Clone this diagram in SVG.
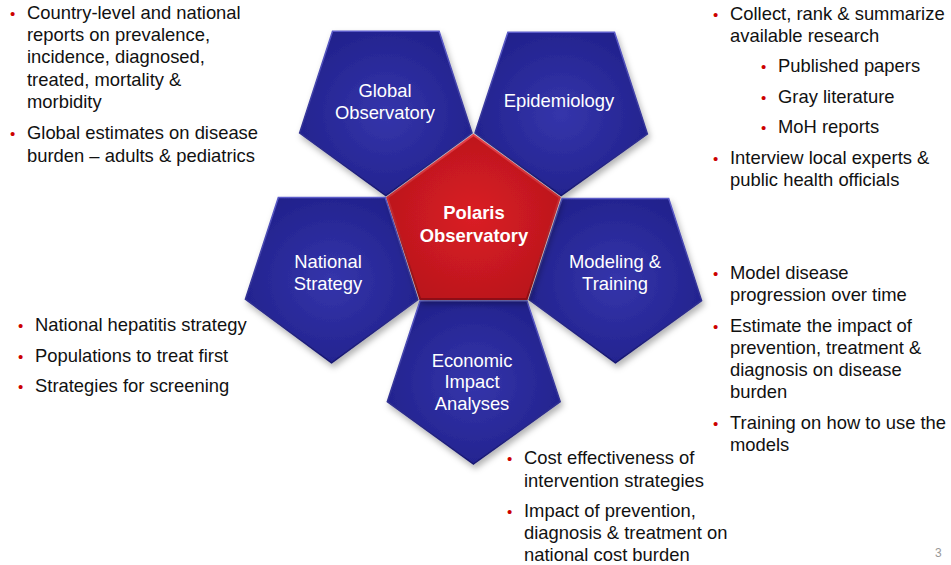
<svg xmlns="http://www.w3.org/2000/svg" width="951" height="565" viewBox="0 0 951 565">
<style>
text{font-family:"Liberation Sans",Arial,sans-serif;}
.t{font-size:18.4px;fill:#111;}
.b{font-size:15px;fill:#cc0000;}
.lbl{font-size:18.4px;fill:#fff;text-anchor:middle;}
.lblb{font-size:18.4px;fill:#fff;text-anchor:middle;font-weight:bold;}
.blue{fill:url(#gBlue);stroke:url(#gBlueEdge);stroke-width:1.5;stroke-linejoin:miter;filter:url(#sh);}
.red{fill:url(#gRed);stroke:url(#gRedEdge);stroke-width:2;stroke-linejoin:miter;filter:url(#sh);}
.pg{font-size:12px;fill:#999;}
</style>
<defs>
<radialGradient id="gBlue" cx="0.5" cy="0.5" r="0.6">
<stop offset="0" stop-color="#3535ab"/>
<stop offset="1" stop-color="#20208a"/>
</radialGradient>
<linearGradient id="gBlueEdge" x1="0" y1="0" x2="0" y2="1">
<stop offset="0" stop-color="#5a5ac8"/>
<stop offset="1" stop-color="#161670"/>
</linearGradient>
<radialGradient id="gRed" cx="0.5" cy="0.5" r="0.6">
<stop offset="0" stop-color="#da1d25"/>
<stop offset="1" stop-color="#b8161c"/>
</radialGradient>
<linearGradient id="gRedEdge" x1="0" y1="0" x2="0" y2="1">
<stop offset="0" stop-color="#e8404a"/>
<stop offset="1" stop-color="#8e0f14"/>
</linearGradient>
<filter id="sh" x="-20%" y="-20%" width="140%" height="140%">
<feDropShadow dx="2" dy="4" stdDeviation="3" flood-color="#000" flood-opacity="0.3"/>
</filter>
</defs>

<g id="connectors"></g>

<g id="node-global">
<polygon class="blue" points="385.8,195.6 472.0,133.0 439.1,31.2 332.5,31.2 299.6,133.0"/>
<text class="lbl" x="385" y="96.5">Global</text>
<text class="lbl" x="385" y="118.5">Observatory</text>
</g>
<g id="node-epidemiology">
<polygon class="blue" points="561.2,195.6 475.0,133.0 507.9,32.2 614.5,32.2 647.4,134.0"/>
<text class="lbl" x="559" y="106.5">Epidemiology</text>
</g>
<g id="node-national">
<polygon class="blue" points="331.6,362.8 245.4,299.2 278.3,197.6 385.3,197.6 417.8,299.7"/>
<text class="lbl" x="328" y="268">National</text>
<text class="lbl" x="328" y="290">Strategy</text>
</g>
<g id="node-modeling">
<polygon class="blue" points="615.4,362.8 701.6,300.7 668.7,198.4 562.1,198.4 529.2,299.7"/>
<text class="lbl" x="615" y="268">Modeling &amp;</text>
<text class="lbl" x="615" y="290">Training</text>
</g>
<g id="node-economic">
<polygon class="blue" points="473.5,464.0 560.2,401.7 527.0,301.0 420.0,301.0 387.3,401.7"/>
<text class="lbl" x="472" y="366.5">Economic</text>
<text class="lbl" x="472" y="388">Impact</text>
<text class="lbl" x="472" y="410">Analyses</text>
</g>
<g id="node-polaris">
<polygon class="red" points="473.5,135 559.7,197.6 526.8,298.9 420.2,298.9 387.3,197.6"/>
<text class="lblb" x="474" y="219">Polaris</text>
<text class="lblb" x="474" y="241.5">Observatory</text>
</g>

<g id="notes-global">
<text class="b" x="10" y="19">•</text>
<text class="t" x="27" y="19">Country-level and national</text>
<text class="t" x="27" y="41.2">reports on prevalence,</text>
<text class="t" x="27" y="63.4">incidence, diagnosed,</text>
<text class="t" x="27" y="85.6">treated, mortality &amp;</text>
<text class="t" x="27" y="107.8">morbidity</text>
<text class="b" x="10" y="139.3">•</text>
<text class="t" x="27" y="139.3">Global estimates on disease</text>
<text class="t" x="27" y="161.5">burden – adults &amp; pediatrics</text>
</g>
<g id="notes-epidemiology">
<text class="b" x="713" y="19.5">•</text>
<text class="t" x="730" y="19.5">Collect, rank &amp; summarize</text>
<text class="t" x="730" y="41.7">available research</text>
<text class="b" x="761" y="72.2">•</text>
<text class="t" x="778" y="72.2">Published papers</text>
<text class="b" x="761" y="102.7">•</text>
<text class="t" x="778" y="102.7">Gray literature</text>
<text class="b" x="761" y="133.2">•</text>
<text class="t" x="778" y="133.2">MoH reports</text>
<text class="b" x="713" y="163.7">•</text>
<text class="t" x="730" y="163.7">Interview local experts &amp;</text>
<text class="t" x="730" y="185.9">public health officials</text>
</g>
<g id="notes-modeling">
<text class="b" x="713" y="279">•</text>
<text class="t" x="730" y="279">Model disease</text>
<text class="t" x="730" y="301.2">progression over time</text>
<text class="b" x="713" y="331.7">•</text>
<text class="t" x="730" y="331.7">Estimate the impact of</text>
<text class="t" x="730" y="353.9">prevention, treatment &amp;</text>
<text class="t" x="730" y="376.1">diagnosis on disease</text>
<text class="t" x="730" y="398.3">burden</text>
<text class="b" x="713" y="428.8">•</text>
<text class="t" x="730" y="428.8">Training on how to use the</text>
<text class="t" x="730" y="451">models</text>
</g>
<g id="notes-national">
<text class="b" x="18" y="331">•</text>
<text class="t" x="35" y="331">National hepatitis strategy</text>
<text class="b" x="18" y="361.5">•</text>
<text class="t" x="35" y="361.5">Populations to treat first</text>
<text class="b" x="18" y="392">•</text>
<text class="t" x="35" y="392">Strategies for screening</text>
</g>
<g id="notes-economic">
<text class="b" x="507" y="464.3">•</text>
<text class="t" x="524" y="464.3">Cost effectiveness of</text>
<text class="t" x="524" y="486.5">intervention strategies</text>
<text class="b" x="507" y="517">•</text>
<text class="t" x="524" y="517">Impact of prevention,</text>
<text class="t" x="524" y="539.2">diagnosis &amp; treatment on</text>
<text class="t" x="524" y="561.4">national cost burden</text>
</g>
<text class="pg" x="935" y="557">3</text>
</svg>
